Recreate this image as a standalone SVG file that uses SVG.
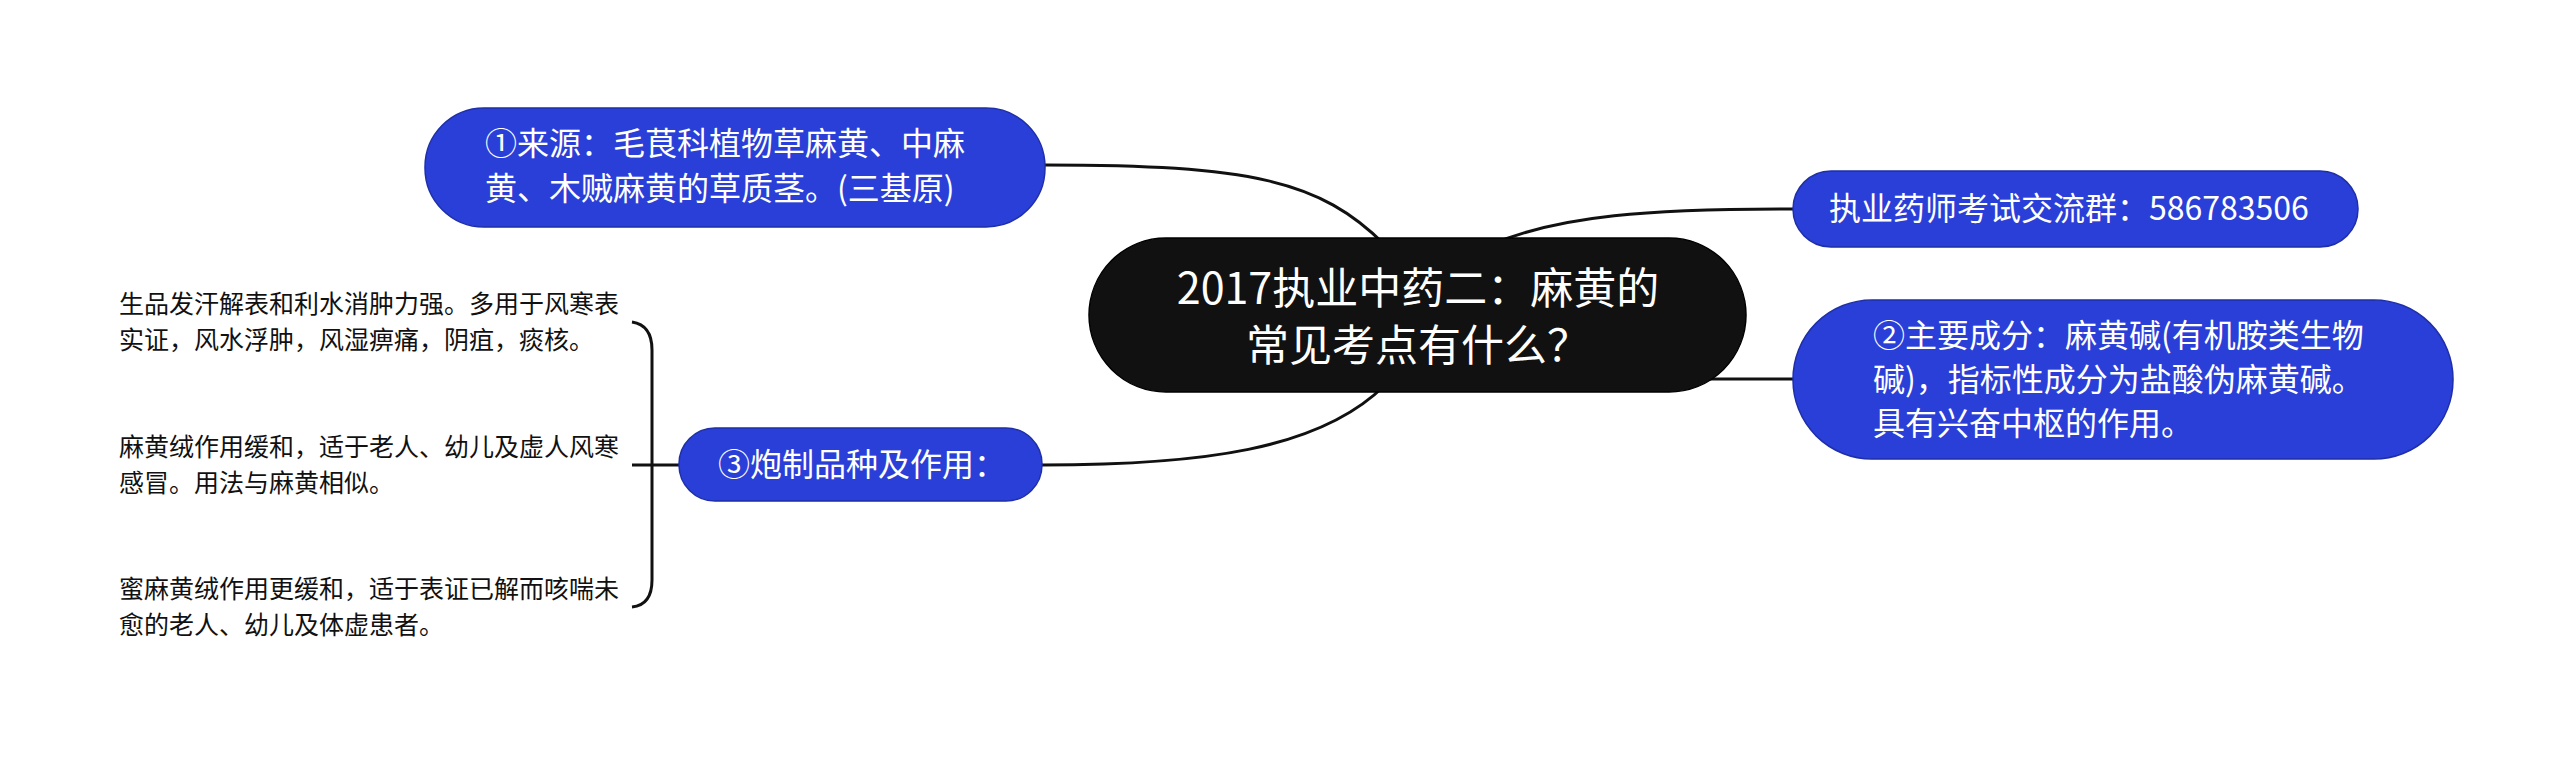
<svg xmlns="http://www.w3.org/2000/svg" width="2560" height="761" viewBox="0 0 2560 761">
<style>
.conn{fill:none;stroke:#111;stroke-width:3;}
.blue{fill:#2a3fd8;stroke:#1e2fa8;stroke-width:1.5;}
.root{fill:#111;stroke:#000;stroke-width:1.5;}
.wt{fill:#fff;font-family:"Noto Sans CJK SC","Noto Sans",sans-serif;}
.lt{fill:#111;font-family:"Noto Sans CJK SC","Noto Sans",sans-serif;font-size:25px;}
</style>
<rect width="2560" height="761" fill="#fff"/>
<g id="connectors">
<path class="conn" d="M1045,165 C1250,165 1320,180 1385,245"/>
<path class="conn" d="M1490,245 C1560,215 1650,209 1793,209"/>
<path class="conn" d="M1700,379 L1793,379"/>
<path class="conn" d="M1385,385 C1320,450 1200,465 1042,465"/>
<path class="conn" d="M679,465 L632,465"/>
<path class="conn" d="M632,322 Q652,325 652,350 L652,580 Q652,605 632,607"/>
</g>
<g id="root">
<rect class="root" x="1089" y="238" width="657" height="154" rx="77"/>
<text class="wt" font-size="43" text-anchor="middle"><tspan x="1418" y="304">2017执业中药二：麻黄的</tspan><tspan x="1418" y="361">常见考点有什么？</tspan></text>
</g>
<g id="n1">
<rect class="blue" x="425" y="108" width="620" height="119" rx="59"/>
<text class="wt" font-size="32"><tspan x="485" y="155">①来源：毛茛科植物草麻黄、中麻</tspan><tspan x="485" y="200">黄、木贼麻黄的草质茎。(三基原)</tspan></text>
</g>
<g id="n_group">
<rect class="blue" x="1793" y="171" width="565" height="76" rx="38"/>
<text class="wt" font-size="32" x="1829" y="220">执业药师考试交流群：586783506</text>
</g>
<g id="n2">
<rect class="blue" x="1793" y="300" width="660" height="159" rx="79"/>
<text class="wt" font-size="32"><tspan x="1873" y="347">②主要成分：麻黄碱(有机胺类生物</tspan><tspan x="1873" y="391">碱)，指标性成分为盐酸伪麻黄碱。</tspan><tspan x="1873" y="435">具有兴奋中枢的作用。</tspan></text>
</g>
<g id="n3">
<rect class="blue" x="679" y="428" width="363" height="73" rx="36"/>
<text class="wt" font-size="32" x="718" y="476">③炮制品种及作用：</text>
</g>
<g id="leaf1">
<text class="lt"><tspan x="119" y="313">生品发汗解表和利水消肿力强。多用于风寒表</tspan><tspan x="119" y="349">实证，风水浮肿，风湿痹痛，阴疽，痰核。</tspan></text>
</g>
<g id="leaf2">
<text class="lt"><tspan x="119" y="456">麻黄绒作用缓和，适于老人、幼儿及虚人风寒</tspan><tspan x="119" y="492">感冒。用法与麻黄相似。</tspan></text>
</g>
<g id="leaf3">
<text class="lt"><tspan x="119" y="598">蜜麻黄绒作用更缓和，适于表证已解而咳喘未</tspan><tspan x="119" y="634">愈的老人、幼儿及体虚患者。</tspan></text>
</g>
</svg>
